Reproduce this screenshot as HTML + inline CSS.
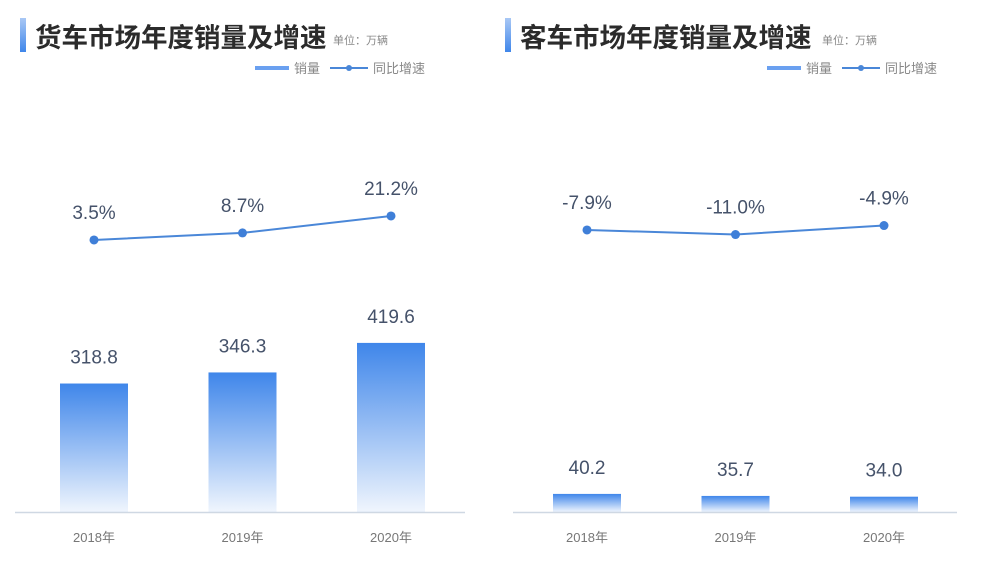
<!DOCTYPE html>
<html><head><meta charset="utf-8"><style>
body{margin:0;background:#fff;font-family:"Liberation Sans","Noto Sans CJK SC",sans-serif}
svg text{font-family:"Liberation Sans","Noto Sans CJK SC",sans-serif}
</style></head><body>
<svg id="c" width="1008" height="572" xmlns="http://www.w3.org/2000/svg">
<defs>
<linearGradient id="g" x1="0" y1="0" x2="0" y2="1"><stop offset="0" stop-color="#3f86ea"/><stop offset="1" stop-color="#3f86ea" stop-opacity="0.08"/></linearGradient>
<linearGradient id="tb" x1="0" y1="0" x2="0" y2="1"><stop offset="0" stop-color="#a9c8f5"/><stop offset="1" stop-color="#3f86ea"/></linearGradient>
</defs>
</svg>
<script>
const categories=["2018年","2019年","2020年"];
const truckSales=[318.8,346.3,419.6];
const truckGrowth=[3.5,8.7,21.2];
const busSales=[40.2,35.7,34.0];
const busGrowth=[-7.9,-11.0,-4.9];
const svg=document.getElementById('c');
const NS="http://www.w3.org/2000/svg";
function mk(t,a,p){const e=document.createElementNS(NS,t);for(const k in a)e.setAttribute(k,a[k]);(p||svg).appendChild(e);return e;}
function panel(o){
  const g=mk('g',{});
  
  
  const tb=mk('rect',{x:o.x0+5,y:18,width:6,height:34,fill:'url(#tb)'},g);
  
  
  const t=mk('text',{x:o.x0+20,y:47,'font-size':26.5,'font-weight':'bold',fill:'#2b2b2b'},g);t.textContent=o.title;
  
  
  const u=mk('text',{x:o.unitX,y:44,'font-size':11,fill:'#888'},g);u.textContent='单位：万辆';
  
  
  const lr=mk('rect',{x:o.legX,y:66,width:34,height:4,fill:'#6aa0f0'},g);
  
  
  const lt=mk('text',{x:o.legX+39,y:73,'font-size':13,fill:'#888'},g);lt.textContent='销量';
  
  
  const ll=mk('line',{x1:o.legX+75,y1:68,x2:o.legX+113,y2:68,stroke:'#4a87d8','stroke-width':2},g);
  
  
  mk('circle',{cx:o.legX+94,cy:68,r:3,fill:'#4a87d8'},g);
  const lt2=mk('text',{x:o.legX+118,y:73,'font-size':13,fill:'#888'},g);lt2.textContent='同比增速';
  
  
  const ax=mk('line',{x1:o.axX1,y1:512.5,x2:o.axX2,y2:512.5,stroke:'#cfd8e3','stroke-width':1.5},g);
  
  
  const base=512;
  const ys=v=>base-v*o.barScale;
  const yl=v=>o.lineOff-v*o.lineScale;
  const xc=i=>o.cx0+i*148.5;
  let pts=[];
  categories.forEach((c,i)=>{
    const top=ys(o.sales[i]);
    const b=mk('rect',{x:xc(i)-34,y:top,width:68,height:base-top,fill:'url(#g)'},g);
    
    
    const bl=mk('text',{x:xc(i),y:top-20,'font-size':19,fill:'#45526a','text-anchor':'middle'},g);bl.textContent=o.sales[i].toFixed(1);
    
    
    const xl=mk('text',{x:xc(i),y:542,'font-size':13,fill:'#777','text-anchor':'middle'},g);xl.textContent=c;
    
    
    pts.push([xc(i),yl(o.growth[i])]);
  });
  const pl=mk('polyline',{points:pts.map(p=>p.join(',')).join(' '),fill:'none',stroke:'#4a87d8','stroke-width':2},g);
  
  
  pts.forEach((p,i)=>{
    const d=mk('circle',{cx:p[0],cy:p[1],r:4.5,fill:'#3f7fd8'},g);
    
    
    const l=mk('text',{x:p[0],y:p[1]-21,'font-size':19,fill:'#45526a','text-anchor':'middle'},g);l.textContent=o.growth[i].toFixed(1)+'%';
    
    
  });
}
panel({name:'truck-panel',x0:15,title:'货车市场年度销量及增速',unitX:333,legX:255,axX1:15,axX2:465,cx0:94,sales:truckSales,growth:truckGrowth,barScale:0.403,lineOff:244.7,lineScale:1.356});
panel({name:'bus-panel',x0:500,title:'客车市场年度销量及增速',unitX:822,legX:767,axX1:513,axX2:957,cx0:587,sales:busSales,growth:busGrowth,barScale:0.45,lineOff:218.3,lineScale:1.475});
</script>
</body></html>
